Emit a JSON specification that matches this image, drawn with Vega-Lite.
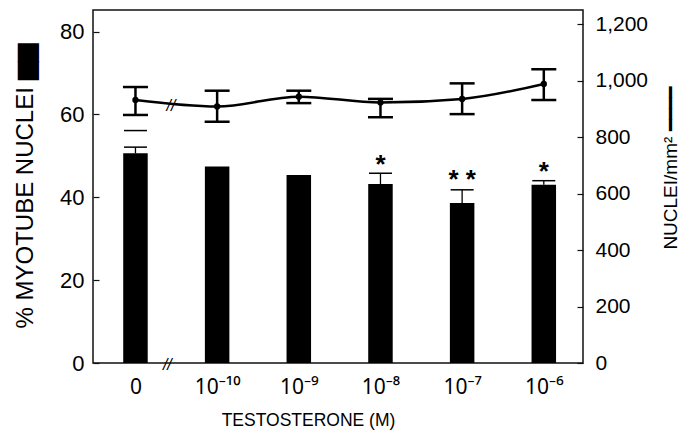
{
  "$schema": "https://vega.github.io/schema/vega-lite/v6.json",
  "width": 490,
  "height": 353,
  "autosize": {"type": "none"},
  "padding": {"left": 93, "top": 10, "right": 100, "bottom": 68},
  "background": "white",
  "config": {
    "view": {"stroke": "#111", "strokeWidth": 1.5},
    "font": "Liberation Sans",
    "axis": {
      "grid": false,
      "domain": false,
      "labelFont": "Liberation Sans",
      "titleFont": "Liberation Sans",
      "labelColor": "#000",
      "titleColor": "#000",
      "tickColor": "#111",
      "titleFontWeight": "normal",
      "zindex": 1
    },
    "axisX": {
      "values": [0, 1, 2, 3, 4, 5],
      "labelExpr": "['0','10⁻¹⁰','10⁻⁹','10⁻⁸','10⁻⁷','10⁻⁶'][datum.value]",
      "ticks": false,
      "labelPadding": 13,
      "labelFont": "Noto Sans",
      "labelFontSize": 21,
      "labelFlush": false,
      "titleFontSize": 17.5,
      "titleX": 215,
      "titleY": 62,
      "titleAlign": "center",
      "titleBaseline": "alphabetic"
    }
  },
  "datasets": {
    "bars": [
      {"i": 0, "pct": 50.6},
      {"i": 1, "pct": 47.4},
      {"i": 2, "pct": 45.4},
      {"i": 3, "pct": 43.2},
      {"i": 4, "pct": 38.6},
      {"i": 5, "pct": 43.0}
    ],
    "barErr": [
      {"i": 0, "pct": 50.6, "hi": 52.1},
      {"i": 3, "pct": 43.2, "hi": 45.8},
      {"i": 4, "pct": 38.6, "hi": 41.8},
      {"i": 5, "pct": 43.0, "hi": 44.0}
    ],
    "barCaps": [
      {"i": 0, "v": 52.1},
      {"i": 0, "v": 56.1},
      {"i": 3, "v": 45.8},
      {"i": 4, "v": 41.8},
      {"i": 5, "v": 44.0}
    ],
    "stars": [
      {"i": 3, "y": 45.8, "t": "*"},
      {"i": 4, "y": 42.3, "t": "* *"},
      {"i": 5, "y": 44.2, "t": "*"}
    ],
    "axisBreak": [{"i": 0.39, "y": -0.6, "t": "//"}],
    "nuclei": [
      {"i": 0, "n": 932, "lo": 879, "hi": 978},
      {"i": 1, "n": 909, "lo": 855, "hi": 965},
      {"i": 2, "n": 944, "lo": 921, "hi": 965},
      {"i": 3, "n": 923, "lo": 871, "hi": 936},
      {"i": 4, "n": 936, "lo": 882, "hi": 991},
      {"i": 5, "n": 989, "lo": 932, "hi": 1041}
    ],
    "lineBreak": [{"i": 0.435, "n": 911, "t": "//"}]
  },
  "layer": [
    {
      "data": {"name": "bars"},
      "mark": {"type": "bar", "size": 24.5, "color": "#000"},
      "encoding": {
        "x": {
          "field": "i", "type": "quantitative", "title": "TESTOSTERONE (M)",
          "scale": {"domain": [-0.52, 5.48], "padding": 0, "nice": false, "zero": false},
          "axis": {
            "values": [0, 1, 2, 3, 4, 5],
            "labelExpr": "['0','10⁻¹⁰','10⁻⁹','10⁻⁸','10⁻⁷','10⁻⁶'][datum.value]",
            "ticks": false,
            "labelPadding": 13,
            "labelFont": "Noto Sans",
            "labelFontSize": 21,
            "labelFlush": false,
            "titleFontSize": 17.5,
            "titleX": 215,
            "titleY": 62,
            "titleAlign": "center",
            "titleBaseline": "alphabetic"
          }
        },
        "y": {
          "field": "pct", "type": "quantitative",
          "scale": {"domain": [0, 85.2], "nice": false},
          "axis": {
            "orient": "left",
            "values": [0, 20, 40, 60, 80],
            "labelFontSize": 22,
            "tickSize": -6,
            "tickWidth": 1.2,
            "labelPadding": 15,
            "title": "% MYOTUBE NUCLEI ▆▆",
            "titleFontSize": 24,
            "titleAngle": -90,
            "titleX": -68,
            "titleY": 176,
            "titleAlign": "center",
            "titleBaseline": "middle"
          }
        }
      }
    },
    {
      "data": {"name": "barErr"},
      "mark": {"type": "rule", "strokeWidth": 1.3, "color": "#000"},
      "encoding": {
        "x": {"field": "i", "type": "quantitative", "title": "TESTOSTERONE (M)", "scale": {"domain": [-0.52, 5.48], "padding": 0, "nice": false, "zero": false}},
        "y": {"field": "pct", "type": "quantitative", "scale": {"domain": [0, 85.2], "nice": false}, "axis": null},
        "y2": {"field": "hi"}
      }
    },
    {
      "data": {"name": "barCaps"},
      "mark": {"type": "tick", "orient": "horizontal", "size": 23, "thickness": 1.5, "color": "#000", "opacity": 1},
      "encoding": {
        "x": {"field": "i", "type": "quantitative", "title": "TESTOSTERONE (M)", "scale": {"domain": [-0.52, 5.48], "padding": 0, "nice": false, "zero": false}},
        "y": {"field": "v", "type": "quantitative", "scale": {"domain": [0, 85.2], "nice": false}, "axis": null}
      }
    },
    {
      "data": {"name": "stars"},
      "mark": {"type": "text", "fontSize": 26, "fontWeight": "bold", "baseline": "alphabetic", "align": "center", "color": "#000", "font": "Liberation Sans"},
      "encoding": {
        "x": {"field": "i", "type": "quantitative", "title": "TESTOSTERONE (M)", "scale": {"domain": [-0.52, 5.48], "padding": 0, "nice": false, "zero": false}},
        "y": {"field": "y", "type": "quantitative", "scale": {"domain": [0, 85.2], "nice": false}, "axis": null},
        "text": {"field": "t"}
      }
    },
    {
      "data": {"name": "axisBreak"},
      "mark": {"type": "text", "fontSize": 16, "fontStyle": "italic", "baseline": "middle", "align": "center", "color": "#000"},
      "encoding": {
        "x": {"field": "i", "type": "quantitative", "title": "TESTOSTERONE (M)", "scale": {"domain": [-0.52, 5.48], "padding": 0, "nice": false, "zero": false}},
        "y": {"field": "y", "type": "quantitative", "scale": {"domain": [0, 85.2], "nice": false}, "axis": null},
        "text": {"field": "t"}
      }
    },
    {
      "data": {"name": "nuclei"},
      "mark": {"type": "line", "interpolate": "monotone", "strokeWidth": 2.5, "color": "#000"},
      "encoding": {
        "x": {"field": "i", "type": "quantitative", "title": "TESTOSTERONE (M)", "scale": {"domain": [-0.52, 5.48], "padding": 0, "nice": false, "zero": false}},
        "y": {
          "field": "n", "type": "quantitative",
          "scale": {"domain": [0, 1251], "nice": false},
          "axis": {
            "orient": "right",
            "values": [0, 200, 400, 600, 800, 1000, 1200],
            "format": ",d",
            "labelFontSize": 21,
            "tickSize": -6,
            "tickWidth": 1.2,
            "labelPadding": 18,
            "title": "NUCLEI/mm² ━━━━",
            "titleFontSize": 19,
            "titleAngle": -90,
            "titleX": 87,
            "titleY": 158,
            "titleAlign": "center",
            "titleBaseline": "middle"
          }
        }
      }
    },
    {
      "data": {"name": "nuclei"},
      "mark": {"type": "point", "filled": true, "size": 40, "color": "#000", "opacity": 1},
      "encoding": {
        "x": {"field": "i", "type": "quantitative", "title": "TESTOSTERONE (M)", "scale": {"domain": [-0.52, 5.48], "padding": 0, "nice": false, "zero": false}},
        "y": {"field": "n", "type": "quantitative", "scale": {"domain": [0, 1251], "nice": false}, "axis": null}
      }
    },
    {
      "data": {"name": "nuclei"},
      "mark": {"type": "rule", "strokeWidth": 2.5, "color": "#000"},
      "encoding": {
        "x": {"field": "i", "type": "quantitative", "title": "TESTOSTERONE (M)", "scale": {"domain": [-0.52, 5.48], "padding": 0, "nice": false, "zero": false}},
        "y": {"field": "lo", "type": "quantitative", "scale": {"domain": [0, 1251], "nice": false}, "axis": null},
        "y2": {"field": "hi"}
      }
    },
    {
      "data": {"name": "nuclei"},
      "mark": {"type": "tick", "orient": "horizontal", "size": 25, "thickness": 2.5, "color": "#000", "opacity": 1},
      "encoding": {
        "x": {"field": "i", "type": "quantitative", "title": "TESTOSTERONE (M)", "scale": {"domain": [-0.52, 5.48], "padding": 0, "nice": false, "zero": false}},
        "y": {"field": "lo", "type": "quantitative", "scale": {"domain": [0, 1251], "nice": false}, "axis": null}
      }
    },
    {
      "data": {"name": "nuclei"},
      "mark": {"type": "tick", "orient": "horizontal", "size": 25, "thickness": 2.5, "color": "#000", "opacity": 1},
      "encoding": {
        "x": {"field": "i", "type": "quantitative", "title": "TESTOSTERONE (M)", "scale": {"domain": [-0.52, 5.48], "padding": 0, "nice": false, "zero": false}},
        "y": {"field": "hi", "type": "quantitative", "scale": {"domain": [0, 1251], "nice": false}, "axis": null}
      }
    },
    {
      "data": {"name": "lineBreak"},
      "mark": {"type": "text", "fontSize": 16, "fontStyle": "italic", "baseline": "middle", "align": "center", "color": "#000"},
      "encoding": {
        "x": {"field": "i", "type": "quantitative", "title": "TESTOSTERONE (M)", "scale": {"domain": [-0.52, 5.48], "padding": 0, "nice": false, "zero": false}},
        "y": {"field": "n", "type": "quantitative", "scale": {"domain": [0, 1251], "nice": false}, "axis": null},
        "text": {"field": "t"}
      }
    }
  ],
  "resolve": {"scale": {"y": "independent"}}
}
